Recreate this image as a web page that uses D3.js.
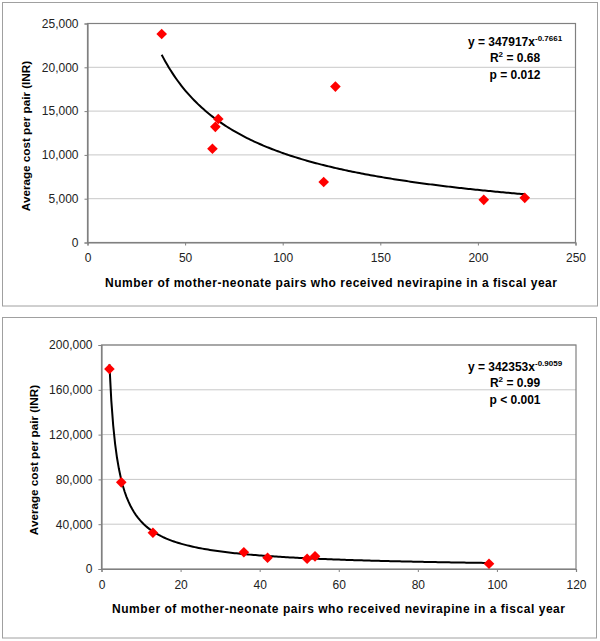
<!DOCTYPE html>
<html><head><meta charset="utf-8">
<script src="https://cdn.jsdelivr.net/npm/d3@7"></script>
<style>body{margin:0;background:#fff}svg{display:block}text{font-family:"Liberation Sans",Arial,sans-serif}</style>
</head><body><svg id="c" width="600" height="641"></svg>
<script>
// Panel A data
const topX = [38, 64, 65.5, 67, 121, 127, 203, 224];
const topY = [23800, 10700, 13200, 14100, 6900, 17800, 4870, 5100];
const topFit = {a: 347917, b: -0.7661};
const topXTicks = [0, 50, 100, 150, 200, 250];
const topYTicks = [0, 5000, 10000, 15000, 20000, 25000];
const topAnn = ["347917", "-0.7661", "0.68", "p = 0.012"];
// Panel B data
const botX = [2, 5, 13, 36, 42, 52, 54, 98];
const botY = [178600, 77400, 32400, 15000, 10000, 9200, 11300, 4700];
const botFit = {a: 342353, b: -0.9059};
const botXTicks = [0, 20, 40, 60, 80, 100, 120];
const botYTicks = [0, 40000, 80000, 120000, 160000, 200000];
const botAnn = ["342353", "-0.9059", "0.99", "p < 0.001"];
const xTitle = "Number of mother-neonate pairs who received nevirapine in a fiscal year";
const yTitle = "Average cost per pair (INR)";

const svg = d3.select("#c");
const fmt = d3.format(",");

function panel(cfg) {
  const g = svg.append("g");
  g.append("rect").attr("x", cfg.box[0]).attr("y", cfg.box[1]).attr("width", cfg.box[2]).attr("height", cfg.box[3])
    .attr("fill", "#fff").attr("stroke", "#a0a0a0").attr("stroke-width", 1);
  const x = d3.scaleLinear().domain([cfg.xTicks[0], cfg.xTicks[cfg.xTicks.length-1]]).range([cfg.l, cfg.r]);
  const y = d3.scaleLinear().domain([cfg.yTicks[0], cfg.yTicks[cfg.yTicks.length-1]]).range([cfg.b, cfg.t]);
  // gridlines
  g.selectAll(".grid").data(cfg.yTicks.slice(1)).join("line")
    .attr("x1", cfg.l).attr("x2", cfg.r).attr("y1", d => y(d)).attr("y2", d => y(d))
    .attr("stroke", "#c8c8c8").attr("stroke-width", 1);
  // plot border
  g.append("rect").attr("x", cfg.l).attr("y", cfg.t).attr("width", cfg.r - cfg.l).attr("height", cfg.b - cfg.t)
    .attr("fill", "none").attr("stroke", "#808080").attr("stroke-width", 1.2);
  const ax = g.append("g").attr("transform", `translate(0,${cfg.b})`)
    .call(d3.axisBottom(x).tickValues(cfg.xTicks).tickSize(3).tickPadding(8).tickFormat(d3.format("d")));
  const ay = g.append("g").attr("transform", `translate(${cfg.l},0)`)
    .call(d3.axisLeft(y).tickValues(cfg.yTicks).tickSize(3).tickPadding(6).tickFormat(fmt));
  [ax, ay].forEach(a => {
    a.select(".domain").attr("stroke", "#808080").attr("stroke-width", 1.2);
    a.selectAll(".tick line").attr("stroke", "#808080");
    a.selectAll("text").attr("font-size", 12).attr("fill", "#222").attr("font-family", '"Liberation Sans",Arial,sans-serif');
  });
  // trendline
  const xs = d3.extent(cfg.xs);
  const pts = d3.range(0, 201).map(i => {
    const xv = xs[0] + (xs[1] - xs[0]) * i / 200;
    return [xv, cfg.fit.a * Math.pow(xv, cfg.fit.b)];
  });
  g.append("path").datum(pts).attr("fill", "none").attr("stroke", "#000").attr("stroke-width", 2)
    .attr("d", d3.line().x(d => x(d[0])).y(d => y(d[1])));
  // points
  const sym = d3.symbol().type(d3.symbolDiamond2).size(72);
  g.selectAll(".pt").data(cfg.xs.map((v, i) => [v, cfg.ys[i]])).join("path")
    .attr("transform", d => `translate(${x(d[0])},${y(d[1])})`)
    .attr("d", sym).attr("fill", "#ff0000");
  // titles
  g.append("text").attr("x", cfg.xtPos[0]).attr("y", cfg.xtPos[1]).attr("text-anchor", "middle")
    .attr("font-size", 12).attr("font-weight", "bold").attr("textLength", cfg.xtPos[2]).attr("lengthAdjust", "spacing")
    .text(xTitle);
  g.append("text").attr("transform", `translate(${cfg.ytPos[0]},${cfg.ytPos[1]}) rotate(-90)`).attr("text-anchor", "middle")
    .attr("font-size", 11.7).attr("font-weight", "bold").text(yTitle);
  // annotation
  const a = g.append("g").attr("font-size", 12).attr("font-weight", "bold").attr("text-anchor", "middle");
  const t1 = a.append("text").attr("x", cfg.ann[0]).attr("y", cfg.ann[1]);
  t1.append("tspan").text("y = " + cfg.annText[0] + "x");
  t1.append("tspan").attr("font-size", 8).attr("dy", -5).text(cfg.annText[1]);
  const t2 = a.append("text").attr("x", cfg.ann[0]).attr("y", cfg.ann[1] + 16);
  t2.append("tspan").text("R");
  t2.append("tspan").attr("font-size", 8).attr("dy", -5).text("2");
  t2.append("tspan").attr("dy", 5).text(" = " + cfg.annText[2]);
  a.append("text").attr("x", cfg.ann[0]).attr("y", cfg.ann[1] + 32.5).text(cfg.annText[3]);
}

panel({box: [2.5, 2.5, 595, 303.5], l: 87.5, r: 575.5, t: 23.5, b: 242.5,
  xTicks: topXTicks, yTicks: topYTicks, xs: topX, ys: topY, fit: topFit,
  xtPos: [331, 287, 452], ytPos: [30, 136], ann: [515, 46], annText: topAnn});
panel({box: [2.5, 317.5, 594, 320.5], l: 101.5, r: 576, t: 345, b: 569,
  xTicks: botXTicks, yTicks: botYTicks, xs: botX, ys: botY, fit: botFit,
  xtPos: [338.5, 612.5, 453], ytPos: [37.5, 460], ann: [515, 371], annText: botAnn});
</script></body></html>
